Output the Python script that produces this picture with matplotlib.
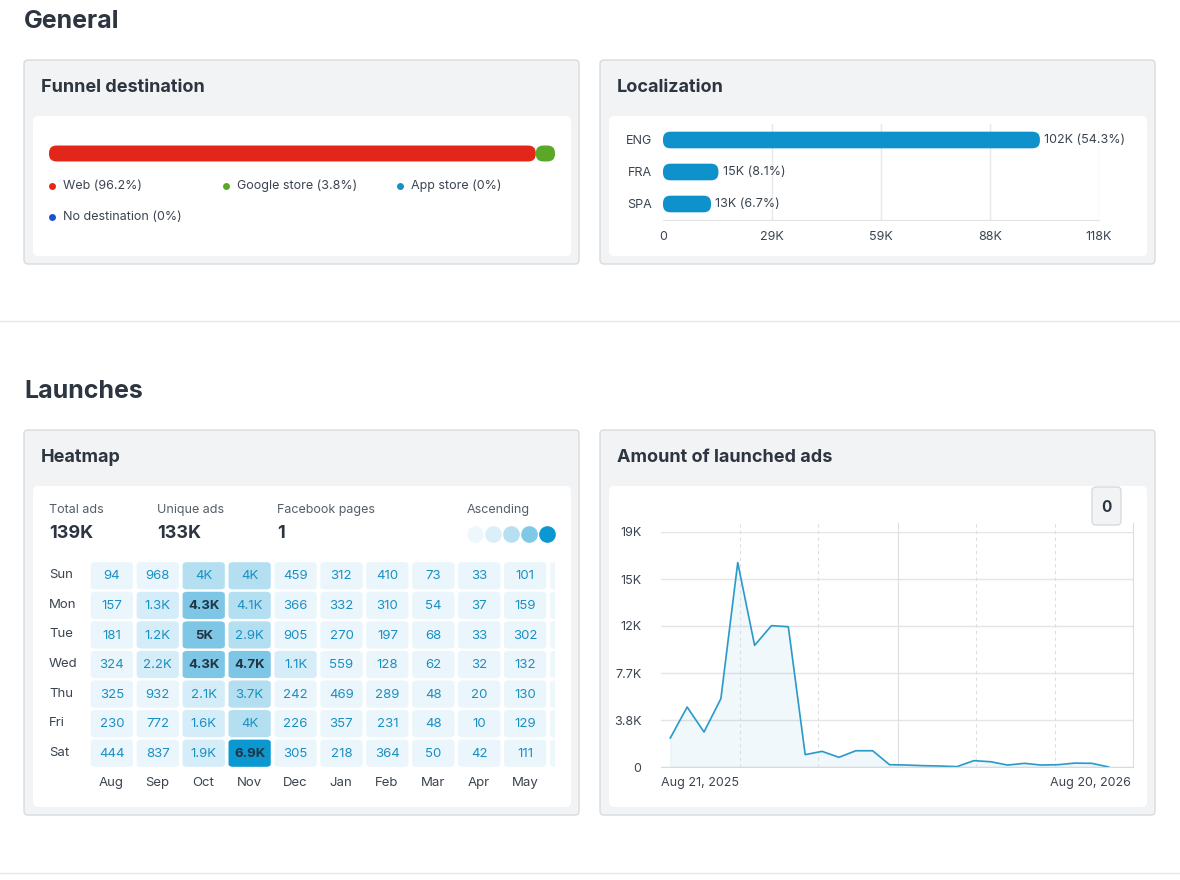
import matplotlib
matplotlib.use("Agg")
import matplotlib.pyplot as plt
from matplotlib.patches import FancyBboxPatch

plt.rcParams['font.family'] = ['Inter', 'DejaVu Sans']

W, H = 1180, 880

# ---- data ----
funnel_labels = ["Web (96.2%)", "Google store (3.8%)", "App store (0%)", "No destination (0%)"]
funnel_share = [96.2, 3.8, 0.0, 0.0]
funnel_colors = ["#e3261a", "#5ba829", "#1a8fc2", "#1c4fd8"]

loc_langs = ["ENG", "FRA", "SPA"]
loc_values = [102, 15, 13]  # thousands
loc_labels = ["102K (54.3%)", "15K (8.1%)", "13K (6.7%)"]
loc_ticks = [0, 29.5, 59, 88.5, 118]
loc_ticklabels = ["0", "29K", "59K", "88K", "118K"]

days = ["Sun", "Mon", "Tue", "Wed", "Thu", "Fri", "Sat"]
months = ["Aug", "Sep", "Oct", "Nov", "Dec", "Jan", "Feb", "Mar", "Apr", "May"]
heat_labels = [
    ["94", "968", "4K", "4K", "459", "312", "410", "73", "33", "101"],
    ["157", "1.3K", "4.3K", "4.1K", "366", "332", "310", "54", "37", "159"],
    ["181", "1.2K", "5K", "2.9K", "905", "270", "197", "68", "33", "302"],
    ["324", "2.2K", "4.3K", "4.7K", "1.1K", "559", "128", "62", "32", "132"],
    ["325", "932", "2.1K", "3.7K", "242", "469", "289", "48", "20", "130"],
    ["230", "772", "1.6K", "4K", "226", "357", "231", "48", "10", "129"],
    ["444", "837", "1.9K", "6.9K", "305", "218", "364", "50", "42", "111"],
]
stats_names = ["Total ads", "Unique ads", "Facebook pages"]
stats_values = ["139K", "133K", "1"]

line_values = [2370, 4900, 2860, 5580, 16700, 9940, 11550, 11460, 1010, 1280, 790,
               1330, 1330, 190, 160, 110, 80, 30, 520, 430, 160, 300, 160, 190, 320, 300, 0]
line_yticks = [0, 3840, 7680, 11520, 15360, 19200]
line_yticklabels = ["0", "3.8K", "7.7K", "12K", "15K", "19K"]
line_vgrid = [4.11, 8.78, 13.5, 18.15, 22.8, 27.44]

def parse(s):
    return float(s[:-1]) * 1000 if s.endswith("K") else float(s)

fig = plt.figure(figsize=(W / 100, H / 100), dpi=100)
fig.patch.set_facecolor("white")

bg = fig.add_axes([0, 0, 1, 1], zorder=0)
bg.set_xlim(0, W); bg.set_ylim(H, 0); bg.axis("off")

def px_axes(x0, y0, x1, y1, z=2):
    return fig.add_axes([x0 / W, 1 - y1 / H, (x1 - x0) / W, (y1 - y0) / H], zorder=z)

def card(x0, y0, x1, y1, title, iy0, iy1):
    bg.add_patch(FancyBboxPatch((x0, y0), x1 - x0, y1 - y0, boxstyle="round,pad=0,rounding_size=4",
                                fc="#f2f3f4", ec="#d8dbde", lw=1))
    bg.add_patch(FancyBboxPatch((x0 + 9, iy0), x1 - x0 - 17, iy1 - iy0, boxstyle="round,pad=0,rounding_size=5",
                                fc="white", ec="none"))
    bg.text(x0 + 17, y0 + 28, title, fontsize=13, fontweight="bold", color="#2d3540", va="center")

TXT = "#2d3540"
bg.text(24, 22, "General", fontsize=18, fontweight="bold", color=TXT, va="center")
bg.text(24, 392, "Launches", fontsize=18, fontweight="bold", color=TXT, va="center")
bg.plot([0, W], [321, 321], color="#e4e7ea", lw=1)
bg.plot([0, W], [873, 873], color="#e4e7ea", lw=1)

card(24, 60, 579, 264, "Funnel destination", 116, 256)
card(600, 60, 1155, 264, "Localization", 116, 256)
card(24, 430, 579, 815, "Heatmap", 486, 807)
card(600, 430, 1155, 815, "Amount of launched ads", 486, 807)

# ---- funnel ----
fa = px_axes(49, 144, 555, 163)
fa.set_xlim(0, 100); fa.set_ylim(0, 1); fa.axis("off")
left = 0
for v, c in zip(funnel_share, funnel_colors):
    if v > 0:
        fa.add_patch(FancyBboxPatch((left, 0.08), v, 0.84, boxstyle="round,pad=0,rounding_size=1.5",
                                    fc=c, ec="none", mutation_aspect=0.26))
    left += v
leg_pos = [(52, 186), (226, 186), (400, 186), (52, 217)]
for (x, y), lab, c in zip(leg_pos, funnel_labels, funnel_colors):
    bg.plot(x, y, "o", ms=5, color=c, mec="none")
    bg.text(x + 11, y, lab, fontsize=9, color="#3a4450", va="center")

# ---- localization ----
la = px_axes(663, 124, 1099, 220)
la.set_xlim(0, 118); la.set_ylim(2.5, -0.5)
for t in loc_ticks[1:]:
    la.axvline(t, color="#e6e8ea", lw=1, zorder=0)
bars = la.barh(range(3), loc_values, height=0.52, color="#0f92cc", zorder=2)
for b in bars:
    x, y, w, h = b.get_x(), b.get_y(), b.get_width(), b.get_height()
    b.set_visible(False)
    la.add_patch(FancyBboxPatch((x, y), w, h, boxstyle="round,pad=0,rounding_size=2.0",
                                fc="#0f92cc", ec="none", mutation_aspect=0.115, zorder=2))
for i, (v, lab) in enumerate(zip(loc_values, loc_labels)):
    la.text(v + 1.2, i, lab, fontsize=9, color="#3a4450", va="center")
la.set_yticks(range(3)); la.set_yticklabels(loc_langs, fontsize=9, color="#3a4450")
la.set_xticks(loc_ticks); la.set_xticklabels(loc_ticklabels, fontsize=9, color="#3a4450")
la.tick_params(length=0, pad=8)
for s in la.spines.values(): s.set_visible(False)
la.spines["bottom"].set_visible(True); la.spines["bottom"].set_color("#e2e4e7")

# ---- heatmap stats ----
for x, n, v in zip([49, 157, 277], stats_names, stats_values):
    bg.text(x, 510, n, fontsize=9, color="#555e68", va="center")
    bg.text(x, 533, v, fontsize=13, fontweight="bold", color=TXT, va="center")
bg.text(467, 510, "Ascending", fontsize=9, color="#555e68", va="center")
for i, c in enumerate(["#eef7fb", "#daeff8", "#b6e0f2", "#7fc8e6", "#0b97d0"]):
    bg.plot(475 + i * 18, 534, "o", ms=12, color=c, mec="none")

def cell_color(v):
    if v < 1000: return "#eaf6fb"
    if v < 2500: return "#d4edf8"
    if v < 4200: return "#b3dff1"
    if v < 6000: return "#7ec6e5"
    return "#0b97d0"

ha = px_axes(88, 561, 555, 768)
ha.set_xlim(-0.02, 10.15); ha.set_ylim(7, 0)
ha.axis("off")
for r in range(7):
    for c in range(11):
        if c < 10:
            v = parse(heat_labels[r][c])
            fc = cell_color(v)
        else:
            v = 0; fc = "#eef7fb"
        p = FancyBboxPatch((c + 0.04, r + 0.04), 0.92, 0.92, boxstyle="round,pad=0,rounding_size=0.1",
                           fc=fc, ec="none", mutation_aspect=1.0)
        p.set_clip_on(True)
        ha.add_patch(p)
        if c < 10:
            strong = v >= 4200
            ha.text(c + 0.5, r + 0.52, heat_labels[r][c], ha="center", va="center", fontsize=9.5,
                    color="#1f3444" if strong else "#1a8fc2", fontweight="bold" if strong else "normal")
for r, d in enumerate(days):
    bg.text(49, 575 + r * 29.7, d, fontsize=9.5, color="#3a4450", va="center")
for c, m in enumerate(months):
    bg.text(111 + c * 46, 783, m, fontsize=9.5, color="#3a4450", va="center", ha="center")

# ---- line chart ----
lx = list(range(len(line_values)))
ax = px_axes(661, 532, 1133, 767)
ax.set_xlim(-0.55, 27.44); ax.set_ylim(0, 19200)
ax.set_yticks(line_yticks); ax.set_yticklabels(line_yticklabels, fontsize=9, color="#3a4450")
ax.set_xticks([])
ax.yaxis.grid(True, color="#e3e5e8", lw=1)
for i, g in enumerate(line_vgrid):
    ax.axvline(g, color="#dcdfe2", lw=0.8, ls=(0, (3, 3)) if i % 3 != 2 else "-", ymax=1.04, clip_on=False)
ax.fill_between(lx, line_values, color="#1a8fc2", alpha=0.06)
ax.plot(lx, line_values, color="#2a9ac8", lw=1.2)
ax.tick_params(length=0, pad=14)
for s in ax.spines.values(): s.set_visible(False)
ax.spines["bottom"].set_visible(True); ax.spines["bottom"].set_color("#d8dbde")
ax.set_axisbelow(True)
bg.text(661, 783, "Aug 21, 2025", fontsize=9, color="#3a4450", va="center")
bg.text(1131, 783, "Aug 20, 2026", fontsize=9, color="#3a4450", va="center", ha="right")
# tooltip box
tip = fig.add_axes([0, 0, 1, 1], zorder=5); tip.set_xlim(0, W); tip.set_ylim(H, 0); tip.axis("off")
tip.add_patch(FancyBboxPatch((1092, 487), 29, 38, boxstyle="round,pad=0,rounding_size=4",
                             fc="#f2f3f4", ec="#d8dbde", lw=1))
tip.text(1106.5, 507, "0", fontsize=11, fontweight="bold", color=TXT, ha="center", va="center")

fig.savefig("out.png", dpi=100, facecolor="white")
